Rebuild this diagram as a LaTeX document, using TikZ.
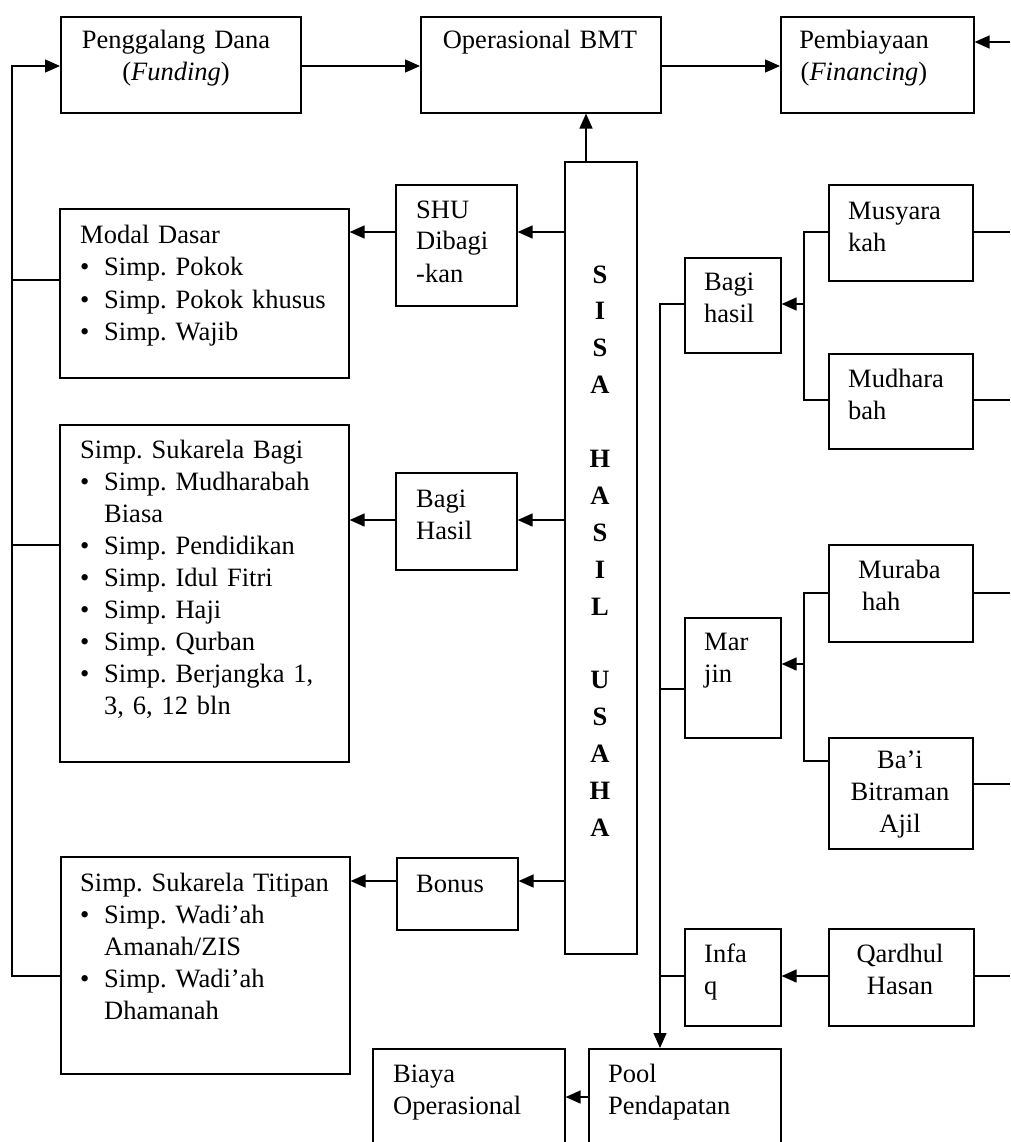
\documentclass[tikz,border=0pt]{standalone}
\usepackage{fontspec}
\setmainfont{Liberation Serif}
\usetikzlibrary{arrows.meta,calc}
\newcommand\bulx{\makebox[24pt][l]{•}}
\newcommand\indx{\hspace*{24pt}}
\newcommand\bx[5]{\node[box,minimum width={#4-#2},minimum height={#5-#3},anchor=north west] (#1) at (#2,#3) {};}
\tikzset{
  box/.style={draw,line width=1.6pt,inner sep=0pt,fill=none},
  txt/.style={inner sep=0pt,text width=270pt,align=left,anchor=base west,font=\fontsize{26.5}{32}\selectfont\frenchspacing},
  ctxt/.style={inner sep=0pt,text width=220pt,align=center,anchor=base,font=\fontsize{26.5}{32}\selectfont\frenchspacing},
  ln/.style={line width=1.4pt},
  arr/.style={line width=1.4pt,-{Triangle[length=15pt,width=13pt]}},
}
\begin{document}
\frenchspacing
\begin{tikzpicture}[x=1pt,y=-1pt]
\useasboundingbox (0,0) rectangle (1010,1142);
\clip (0,0) rectangle (1010,1142);
\fill[white] (0,0) rectangle (1010,1142);
% boxes
\bx{peng}{60}{16}{300}{112}
\bx{ops}{420}{16}{660}{112}
\bx{pemb}{780}{16}{973}{112}
\bx{modal}{59}{208}{348}{377}
\bx{sukb}{59}{424}{348}{761}
\bx{titip}{60}{856}{349}{1073}
\bx{shu}{395}{184}{516}{305}
\bx{bhl}{395}{472}{516}{569}
\bx{bonus}{396}{857}{517}{929}
\bx{sisa}{564}{161}{636}{953}
\bx{bhr}{684}{257}{780}{352}
\bx{musy}{828}{184}{972}{280}
\bx{mudh}{828}{353}{972}{448}
\bx{murab}{828}{544}{972}{641}
\bx{marjin}{684}{617}{780}{737}
\bx{bai}{828}{737}{972}{848}
\bx{infaq}{684}{928}{780}{1025}
\bx{qard}{828}{928}{973}{1025}
\bx{pool}{588}{1048}{780}{1170}
\bx{biaya}{372}{1048}{564}{1170}
% texts
\node[ctxt] (tpeng) at (176,49) {Penggalang Dana\\(\textit{Funding})};
\node[ctxt] (tops) at (540,49) {Operasional BMT};
\node[ctxt] (tpemb) at (864,49) {Pembiayaan\\(\textit{Financing})};
\node[txt,font=\fontsize{26.5}{32.5}\selectfont\frenchspacing] (tmodal) at (80,243) {Modal Dasar\\\bulx Simp. Pokok\\\bulx Simp. Pokok khusus\\\bulx Simp. Wajib};
\node[txt] (tsukb) at (80,458) {Simp. Sukarela Bagi\\\bulx Simp. Mudharabah\\\indx Biasa\\\bulx Simp. Pendidikan\\\bulx Simp. Idul Fitri\\\bulx Simp. Haji\\\bulx Simp. Qurban\\\bulx Simp. Berjangka 1,\\\indx 3, 6, 12 bln};
\node[txt] (ttitip) at (80,891) {Simp. Sukarela Titipan\\\bulx Simp. Wadi’ah\\\indx Amanah/ZIS\\\bulx Simp. Wadi’ah\\\indx Dhamanah};
\node[txt] (tshu) at (416,218) {SHU\\Dibagi\\-kan};
\node[txt] (tbhl) at (416,507) {Bagi\\Hasil};
\node[txt] (tbonus) at (416,892) {Bonus};
\node[txt] (tbhr) at (704,290) {Bagi\\hasil};
\node[txt] (tmusy) at (848,219) {Musyara\\kah};
\node[txt] (tmudh) at (848,387) {Mudhara\\bah};
\node[txt] (tmurab) at (858,578) {Muraba\\\hspace*{4pt}hah};
\node[ctxt] (tbai) at (900,768) {Ba’i\\Bitraman\\Ajil};
\node[txt] (tmarjin) at (704,650) {Mar\\jin};
\node[txt] (tinfaq) at (704,962) {Infa\\q};
\node[ctxt] (tqard) at (900,962) {Qardhul\\Hasan};
\node[txt] (tpool) at (608,1082) {Pool\\Pendapatan};
\node[txt] (tbiaya) at (393,1082) {Biaya\\Operasional};
\node[ctxt,text width=60pt,font=\fontsize{26.5}{36.9}\selectfont\bfseries] (tsisa) at (600,283) {S\\I\\S\\A\\\mbox{}\\H\\A\\S\\I\\L\\\mbox{}\\U\\S\\A\\H\\A};
% row coordinates
\coordinate (r42) at (0,42);
\coordinate (r66) at (0,66);
\coordinate (r232) at (0,232);
\coordinate (r280) at (0,280);
\coordinate (r304) at (0,304);
\coordinate (r400) at (0,400);
\coordinate (r520) at (0,520);
\coordinate (r545) at (0,545);
\coordinate (r593) at (0,593);
\coordinate (r664) at (0,664);
\coordinate (r689) at (0,689);
\coordinate (r761) at (0,761);
\coordinate (r784) at (0,784);
\coordinate (r881) at (0,881);
\coordinate (r976) at (0,976);
\coordinate (r1097) at (0,1097);
\coordinate (cL) at (12,0);
\coordinate (cR) at (1010,0);
\coordinate (cA) at (586,0);
\coordinate (cB) at (660,0);
\coordinate (cC) at (804,0);
% top row
\draw[arr] (peng.east|-r66) -- (ops.west|-r66);
\draw[arr] (ops.east|-r66) -- (pemb.west|-r66);
\draw[arr] (cR|-r42) -- (pemb.east|-r42);
\draw[arr] (sisa.north-|cA) -- (ops.south-|cA);
% left bus
\draw[arr] (titip.west|-r976) -- (cL|-r976) -- (cL|-r66) -- (peng.west|-r66);
\draw[ln] (modal.west|-r280) -- (cL|-r280);
\draw[ln] (sukb.west|-r545) -- (cL|-r545);
% SISA outputs
\draw[arr] (sisa.west|-r232) -- (shu.east|-r232);
\draw[arr] (shu.west|-r232) -- (modal.east|-r232);
\draw[arr] (sisa.west|-r520) -- (bhl.east|-r520);
\draw[arr] (bhl.west|-r520) -- (sukb.east|-r520);
\draw[arr] (sisa.west|-r881) -- (bonus.east|-r881);
\draw[arr] (bonus.west|-r881) -- (titip.east|-r881);
% right inner bus
\draw[arr] (bhr.west|-r304) -- (cB|-r304) -- (pool.north-|cB);
\draw[ln] (marjin.west|-r689) -- (cB|-r689);
\draw[ln] (infaq.west|-r976) -- (cB|-r976);
% brackets
\draw[ln] (musy.west|-r232) -- (cC|-r232) -- (cC|-r400) -- (mudh.west|-r400);
\draw[arr] (cC|-r304) -- (bhr.east|-r304);
\draw[ln] (murab.west|-r593) -- (cC|-r593) -- (cC|-r761) -- (bai.west|-r761);
\draw[arr] (cC|-r664) -- (marjin.east|-r664);
\draw[arr] (qard.west|-r976) -- (infaq.east|-r976);
% right edge lines
\draw[ln] (musy.east|-r232) -- (cR|-r232);
\draw[ln] (mudh.east|-r400) -- (cR|-r400);
\draw[ln] (murab.east|-r593) -- (cR|-r593);
\draw[ln] (bai.east|-r784) -- (cR|-r784);
\draw[ln] (qard.east|-r976) -- (cR|-r976);
% bottom
\draw[arr] (pool.west|-r1097) -- (biaya.east|-r1097);
\end{tikzpicture}
\end{document}
